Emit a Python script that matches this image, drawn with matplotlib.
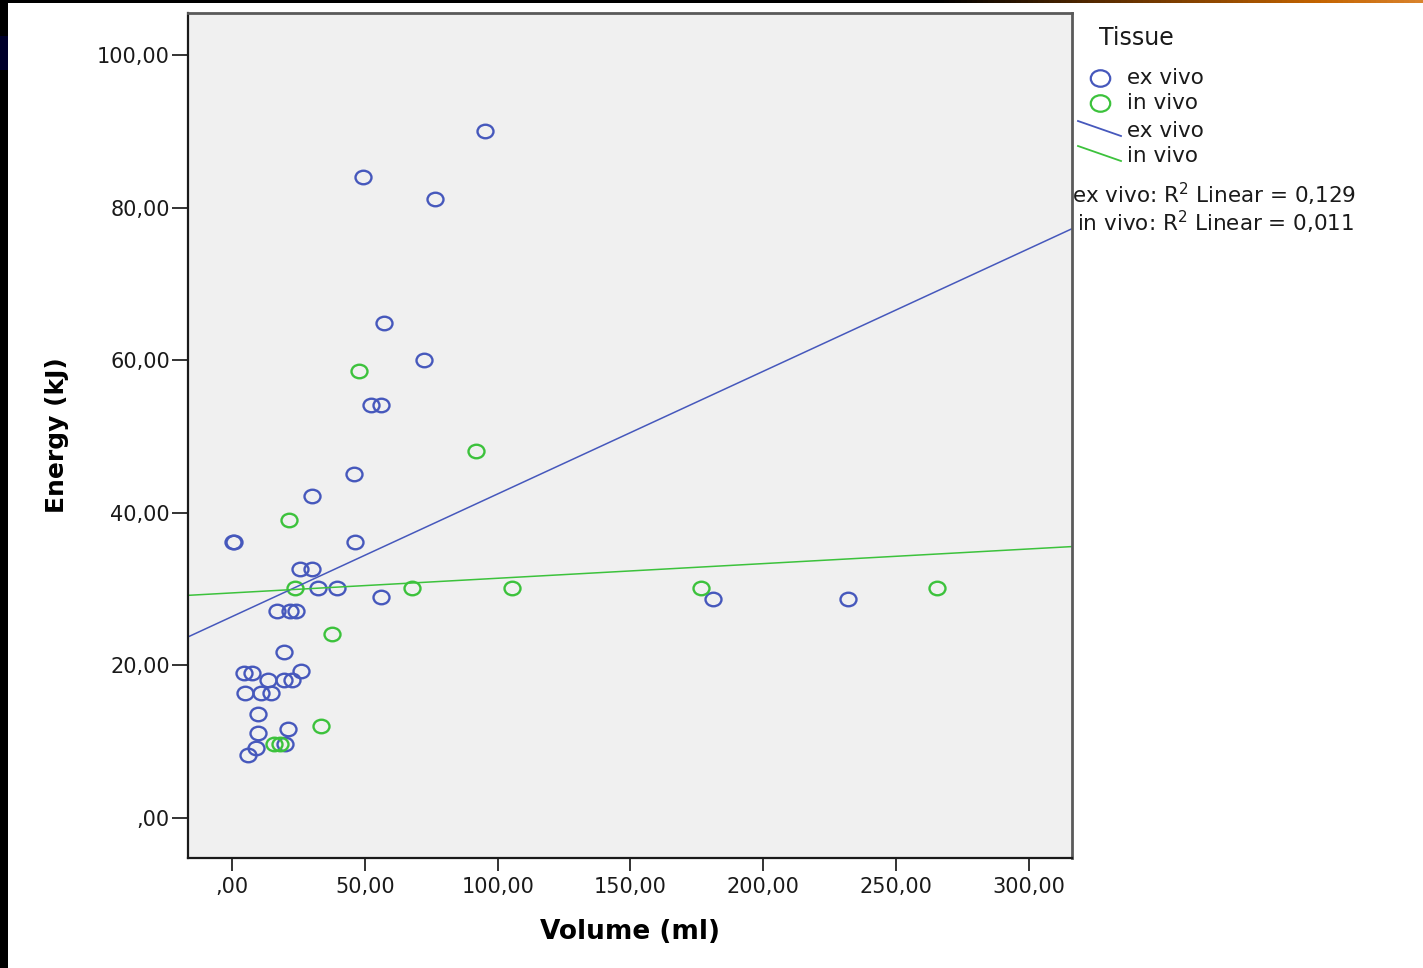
import numpy as np
import matplotlib.pyplot as plt
from matplotlib.path import Path
from matplotlib.lines import Line2D
from matplotlib.colors import LinearSegmentedColormap

# volume (ml) and energy (kJ) per lesion
ex_vivo_vol = [95.3, 49.3, 76.4, 57.2, 72.3, 52.3, 56.1, 45.9, 30.1, 0.4, 0.6,
               46.3, 25.6, 30.1, 32.4, 39.5, 56.1, 181.1, 231.9, 16.9, 21.8,
               24.1, 19.6, 4.5, 7.5, 26.0, 13.6, 19.6, 22.6, 4.9, 10.9, 14.7,
               9.8, 9.8, 21.1, 9.0, 6.0, 19.8]
ex_vivo_energy = [90.0, 84.0, 81.1, 64.9, 60.0, 54.1, 54.1, 45.1, 42.2, 36.2,
                  36.2, 36.2, 32.6, 32.6, 30.1, 30.1, 29.0, 28.7, 28.7, 27.1,
                  27.1, 27.1, 21.8, 19.0, 19.0, 19.3, 18.1, 18.1, 18.1, 16.4,
                  16.4, 16.4, 13.6, 11.1, 11.7, 9.2, 8.3, 9.7]

in_vivo_vol = [47.8, 91.9, 21.5, 23.7, 67.8, 105.4, 176.6, 265.4, 37.7, 33.5,
               15.9, 18.1]
in_vivo_energy = [58.6, 48.1, 39.1, 30.1, 30.1, 30.1, 30.1, 30.1, 24.1, 12.1,
                  9.7, 9.7]

# linear fits (intercept, slope) as reported with the R2 values
ex_vivo_fit = (26.4, 0.1607)
in_vivo_fit = (29.5, 0.0192)

r2_text = ["ex vivo: R$^2$ Linear = 0,129", "in vivo: R$^2$ Linear = 0,011"]
tissue = ["ex vivo", "in vivo"]
blue = "#4658bc"
green = "#3cc23c"

x_ticks = [0, 50, 100, 150, 200, 250, 300]
y_ticks = [0, 20, 40, 60, 80, 100]


def spss_fmt(v):
    s = f"{v:.2f}".replace(".", ",")
    return s[1:] if s.startswith("0,") else s


# slightly wide open circle
circ = Path.unit_circle()
ring = Path(circ.vertices * [1.18, 1.0], circ.codes)

fig = plt.figure(figsize=(14.23, 9.68), dpi=100)
fig.patch.set_facecolor("white")

# page border and the top colour strip
bg = fig.add_axes([0, 0, 1, 1])
bg.axis("off")
bg.add_patch(plt.Rectangle((0, 0), 8, 968, color="black", lw=0))
bg.add_patch(plt.Rectangle((0, 36), 8, 34, color="#00002a", lw=0))
strip = LinearSegmentedColormap.from_list(
    "strip", [(0, "black"), (0.66, "black"), (0.8, "#6a3400"),
              (0.93, "#c46400"), (1, "#d9822b")])
bg.imshow(np.linspace(0, 1, 300)[None, :], cmap=strip, aspect="auto",
          extent=(0, 1423, 3, 0))
bg.set_xlim(0, 1423)
bg.set_ylim(968, 0)

ax = fig.add_axes([188 / 1423, 110 / 968, 884 / 1423, 845 / 968])
ax.set_facecolor("#f0f0f0")
ax.set_xlim(-16.6, 316.3)
ax.set_ylim(-5.24, 105.5)

ax.plot(ex_vivo_vol, ex_vivo_energy, ls="none", marker=ring, ms=11.5,
        mfc="none", mec=blue, mew=1.7)
ax.plot(in_vivo_vol, in_vivo_energy, ls="none", marker=ring, ms=11.5,
        mfc="none", mec=green, mew=1.7)

# fit lines over the whole x range
xs = np.array(ax.get_xlim())
for (b, k), c in [(ex_vivo_fit, blue), (in_vivo_fit, green)]:
    ax.plot(xs, b + k * xs, color=c, lw=1.1)

ax.set_xticks(x_ticks)
ax.set_yticks(y_ticks)
ax.set_xticklabels([spss_fmt(v) for v in x_ticks])
ax.set_yticklabels([spss_fmt(v) for v in y_ticks])
ax.tick_params(axis="y", length=11.5, width=1.4, color="#333333", pad=1.5,
               labelsize=15, labelcolor="#1a1a1a")
ax.tick_params(axis="x", length=9.4, width=1.4, color="#333333", pad=4,
               labelsize=15, labelcolor="#1a1a1a")
for side in ["left", "bottom"]:
    ax.spines[side].set_linewidth(1.6)
    ax.spines[side].set_color("#1a1a1a")
for side in ["top", "right"]:
    ax.spines[side].set_linewidth(2)
    ax.spines[side].set_color("#5a5a5a")

ax.set_xlabel("Volume (ml)", fontsize=19, fontweight="bold", va="center")
ax.xaxis.set_label_coords(0.5, -0.0876)
ax.set_ylabel("Energy (kJ)", fontsize=18, fontweight="bold", va="center")
ax.yaxis.set_label_coords(-0.148, 0.5)

# legend
bg.text(1099, 38, "Tissue", fontsize=17, va="center", color="#1a1a1a")
for i, (lab, c) in enumerate(zip(tissue, [blue, green])):
    y = 78 + 25 * i
    bg.plot([1100], [y], ls="none", marker=ring, ms=14, mfc="none", mec=c,
            mew=1.6)
    bg.text(1127, y, lab, fontsize=15.5, va="center", color="#1a1a1a")
for i, (lab, c) in enumerate(zip(tissue, [blue, green])):
    y = 131 + 25 * i
    bg.add_line(Line2D([1078, 1121], [y - 10, y + 5], color=c, lw=1.3))
    bg.text(1127, y, lab, fontsize=15.5, va="center", color="#1a1a1a")
bg.text(1072, 194, r2_text[0], fontsize=15.5, va="center", color="#1a1a1a")
bg.text(1077, 222, r2_text[1], fontsize=15.5, va="center", color="#1a1a1a")

fig.savefig("out.png", dpi=100)
